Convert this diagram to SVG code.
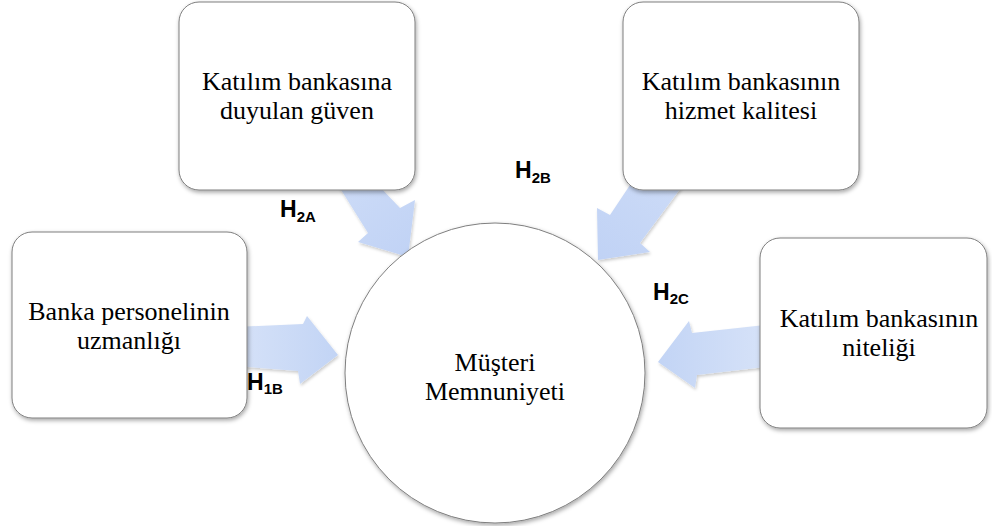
<svg xmlns="http://www.w3.org/2000/svg" width="992" height="526" viewBox="0 0 992 526">
  <style>
    .box { fill: #ffffff; stroke: #7f7f7f; stroke-width: 1; filter: url(#shadow); }
    .lbl { font-family: "Liberation Serif", "Times New Roman", serif; font-size: 26px; fill: #000000; text-anchor: middle; }
    .h { font-family: "Liberation Sans", Arial, sans-serif; font-weight: bold; font-size: 23px; fill: #000000; }
    .sub { font-size: 15px; }
    .arr { filter: url(#ashadow); }
  </style>
  <defs>
    <filter id="shadow" x="-10%" y="-10%" width="125%" height="125%">
      <feDropShadow dx="1" dy="2" stdDeviation="2" flood-color="#000000" flood-opacity="0.35"/>
    </filter>
    <filter id="ashadow" x="-20%" y="-20%" width="140%" height="140%">
      <feDropShadow dx="1" dy="2" stdDeviation="1.5" flood-color="#000000" flood-opacity="0.2"/>
    </filter>
    <linearGradient id="gL" x1="0" y1="0" x2="1" y2="0">
      <stop offset="0" stop-color="#d6e2f8"/>
      <stop offset="1" stop-color="#c2d4f5"/>
    </linearGradient>
    <linearGradient id="gR" x1="1" y1="0" x2="0" y2="0">
      <stop offset="0" stop-color="#d6e2f8"/>
      <stop offset="1" stop-color="#c2d4f5"/>
    </linearGradient>
    <linearGradient id="gTL" x1="0" y1="0" x2="1" y2="1">
      <stop offset="0" stop-color="#ccdbf7"/>
      <stop offset="1" stop-color="#c0d2f5"/>
    </linearGradient>
    <linearGradient id="gTR" x1="1" y1="0" x2="0" y2="1">
      <stop offset="0" stop-color="#ccdbf7"/>
      <stop offset="1" stop-color="#c0d2f5"/>
    </linearGradient>
  </defs>

  <g id="connectors">
    <polygon class="arr" fill="url(#gL)" points="235,327 303,324 307,316 338,355 300,384 298,371 235,366"/>
    <polygon class="arr" fill="url(#gR)" points="765,325 692,333 689,321 658,362 695,388 697,375 765,367"/>
    <polygon class="arr" fill="url(#gTL)" points="338,185 368,233 358,242 408,257 415,200 400,208 378,185"/>
    <polygon class="arr" fill="url(#gTR)" points="683,185 640,243 650,252 598,260 597,208 610,215 630,185"/>
  </g>

  <g id="node-guven">
    <rect class="box" x="179" y="2" width="236" height="188" rx="20" ry="20"/>
    <text class="lbl" x="297" y="90">Katılım bankasına</text>
    <text class="lbl" x="297" y="119">duyulan güven</text>
  </g>

  <g id="node-hizmet">
    <rect class="box" x="623" y="2" width="236" height="188" rx="20" ry="20"/>
    <text class="lbl" x="741" y="90">Katılım bankasının</text>
    <text class="lbl" x="741" y="119">hizmet kalitesi</text>
  </g>

  <g id="node-personel">
    <rect class="box" x="12" y="232" width="235" height="186" rx="20" ry="20"/>
    <text class="lbl" x="129" y="320">Banka personelinin</text>
    <text class="lbl" x="129" y="349">uzmanlığı</text>
  </g>

  <g id="node-nitelik">
    <rect class="box" x="760" y="238" width="227" height="190" rx="20" ry="20"/>
    <text class="lbl" x="879" y="327">Katılım bankasının</text>
    <text class="lbl" x="879" y="356">niteliği</text>
  </g>

  <g id="node-memnuniyet">
    <circle class="box" cx="495" cy="373" r="150"/>
    <text class="lbl" x="495" y="371">Müşteri</text>
    <text class="lbl" x="495" y="400">Memnuniyeti</text>
  </g>

  <g id="labels">
    <text class="h" x="280" y="217">H<tspan class="sub" dy="5">2A</tspan></text>
    <text class="h" x="515" y="178">H<tspan class="sub" dy="5">2B</tspan></text>
    <text class="h" x="653" y="300">H<tspan class="sub" dy="4">2C</tspan></text>
    <text class="h" x="247" y="390">H<tspan class="sub" dy="4">1B</tspan></text>
  </g>
</svg>
